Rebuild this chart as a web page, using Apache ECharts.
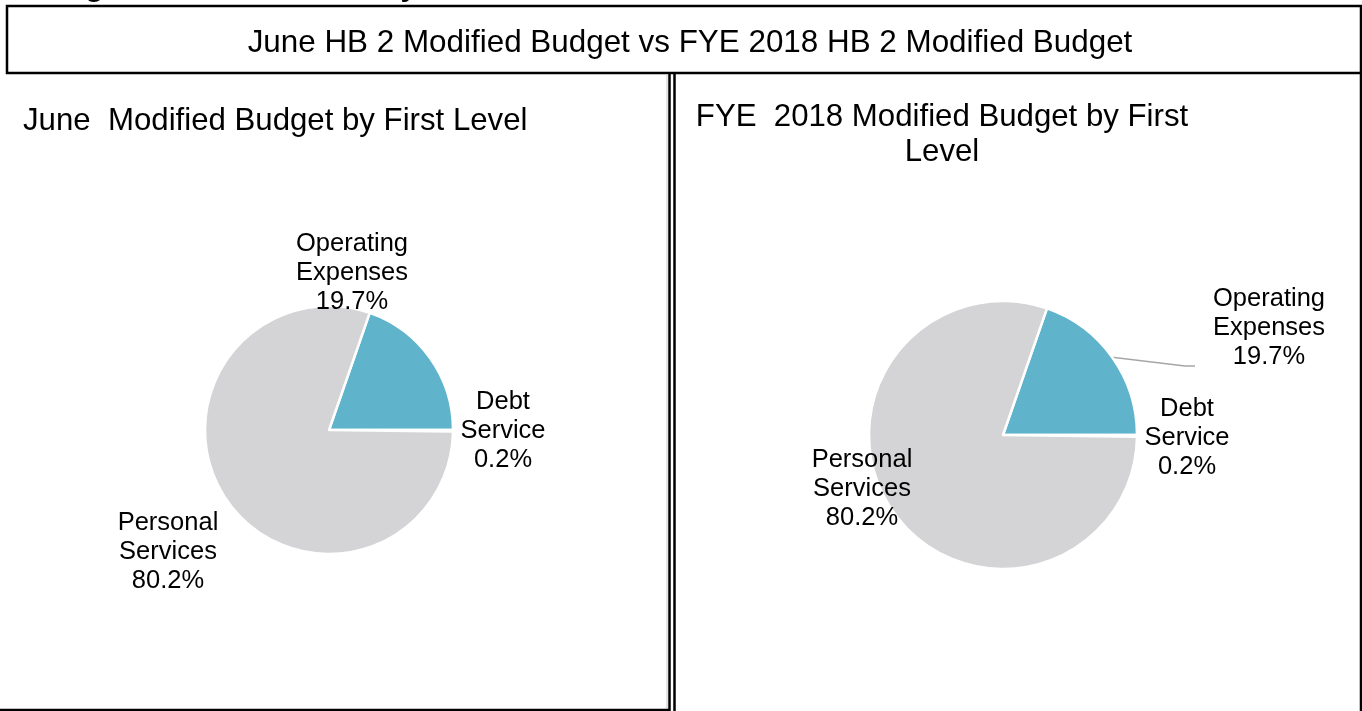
<!DOCTYPE html>
<html>
<head>
<meta charset="utf-8">
<script src="https://cdn.jsdelivr.net/npm/echarts@6/dist/echarts.min.js"></script>
<style>
  html, body { margin: 0; padding: 0; background: #fff; }
  #chart { width: 1362px; height: 711px; }
</style>
</head>
<body>
<div id="chart"></div>
<script>
// data
const categories = ['Operating Expenses', 'Debt Service', 'Personal Services'];
const juneValues = [19.7, 0.2, 80.2];
const fyeValues = [19.7, 0.2, 80.2];

const headingText = 'Budget Overview Summary';
const mainTitle = 'June HB 2 Modified Budget vs FYE 2018 HB 2 Modified Budget';
const juneTitle = 'June  Modified Budget by First Level';
const fyeTitle = 'FYE  2018 Modified Budget by First\nLevel';

// styles / layout
const sliceColors = ['#5FB4CC', '#D4D4D6', '#D4D4D6'];
const FONT = "'Liberation Sans', Arial, sans-serif";
const juneCenter = [329, 430];
const fyeCenter = [1003, 435];
// label block centre, relative to the pie centre
const juneLabelOffsets = [[23, -157], [174, 1], [-161, 122]];
const fyeLabelOffsets = [[266, -107], [184, 3], [-141, 54]];
// leader elbow, relative to the label centre
const fyeLeaderElbow = [[-84, 38], [-74, 38]];

const chart = echarts.init(document.getElementById('chart'));

const pieSeries = (values, center, radius, offsets, lineIdx) => {
  const total = values.reduce((a, b) => a + b, 0);
  const startAngle = values[0] / total * 360;
  return {
    type: 'pie',
    center: center,
    radius: radius,
    startAngle: startAngle,
    clockwise: true,
    silent: true,
    animation: false,
    itemStyle: {
      borderColor: '#fff',
      borderWidth: 2.5
    },
    label: {
      show: true,
      position: 'outside',
      color: '#000',
      fontFamily: FONT,
      fontSize: 25.5,
      lineHeight: 29,
      formatter: p => p.name.replace(' ', '\n') + '\n' + p.value.toFixed(1) + '%'
    },
    labelLine: {
      show: false,
      lineStyle: { color: '#A6A6A6', width: 1.5 }
    },
    labelLayout: params => {
      const i = params.dataIndex;
      const off = offsets[i];
      const lx = center[0] + off[0];
      const ly = center[1] + off[1];
      const res = { x: lx, y: ly, align: 'center', verticalAlign: 'middle' };
      if (i === lineIdx) {
        // leader from the middle of the slice's arc
        let before = 0;
        for (let k = 0; k < i; k++) before += values[k];
        const mid = (startAngle - (before + values[i] / 2) / total * 360) * Math.PI / 180;
        res.labelLinePoints = [
          [center[0] + radius * Math.cos(mid), center[1] - radius * Math.sin(mid)],
          [lx + fyeLeaderElbow[0][0], ly + fyeLeaderElbow[0][1]],
          [lx + fyeLeaderElbow[1][0], ly + fyeLeaderElbow[1][1]]
        ];
      }
      return res;
    },
    data: categories.map((name, i) => ({
      name: name,
      value: values[i],
      itemStyle: { color: sliceColors[i] },
      labelLine: { show: i === lineIdx }
    }))
  };
};

const option = {
  backgroundColor: '#fff',
  graphic: [
    {
      type: 'text',
      style: {
        text: headingText, x: 27, y: -12,
        font: 'bold 30px ' + FONT, fill: '#000',
        textAlign: 'left', textVerticalAlign: 'middle'
      }
    },
    {
      type: 'rect',
      shape: { x: 7, y: 6, width: 1354, height: 67 },
      style: { fill: 'none', stroke: '#000', lineWidth: 2.5 }
    },
    {
      type: 'text',
      style: {
        text: mainTitle, x: 690, y: 43,
        font: '31.4px ' + FONT, fill: '#000',
        textAlign: 'center', textVerticalAlign: 'middle'
      }
    },
    // left panel borders
    {
      type: 'line',
      shape: { x1: 667, y1: 74, x2: 667, y2: 711 },
      style: { stroke: '#C8C8C8', lineWidth: 1 }
    },
    {
      type: 'line',
      shape: { x1: 669.5, y1: 74, x2: 669.5, y2: 711 },
      style: { stroke: '#000', lineWidth: 2.5 }
    },
    {
      type: 'line',
      shape: { x1: 0, y1: 710, x2: 670, y2: 710 },
      style: { stroke: '#000', lineWidth: 2.5 }
    },
    // right panel borders
    {
      type: 'line',
      shape: { x1: 674.5, y1: 74, x2: 674.5, y2: 711 },
      style: { stroke: '#000', lineWidth: 2.5 }
    },
    {
      type: 'line',
      shape: { x1: 1361, y1: 74, x2: 1361, y2: 711 },
      style: { stroke: '#000', lineWidth: 2.5 }
    },
    {
      type: 'text',
      style: {
        text: juneTitle, x: 23, y: 121,
        font: '31.2px ' + FONT, fill: '#000',
        textAlign: 'left', textVerticalAlign: 'middle'
      }
    },
    {
      type: 'text',
      style: {
        text: fyeTitle, x: 942, y: 135,
        font: '31.2px ' + FONT, fill: '#000', lineHeight: 35,
        textAlign: 'center', textVerticalAlign: 'middle'
      }
    }
  ],
  series: [
    pieSeries(juneValues, juneCenter, 124, juneLabelOffsets, -1),
    pieSeries(fyeValues, fyeCenter, 134, fyeLabelOffsets, 0)
  ]
};

chart.setOption(option);
</script>
</body>
</html>
